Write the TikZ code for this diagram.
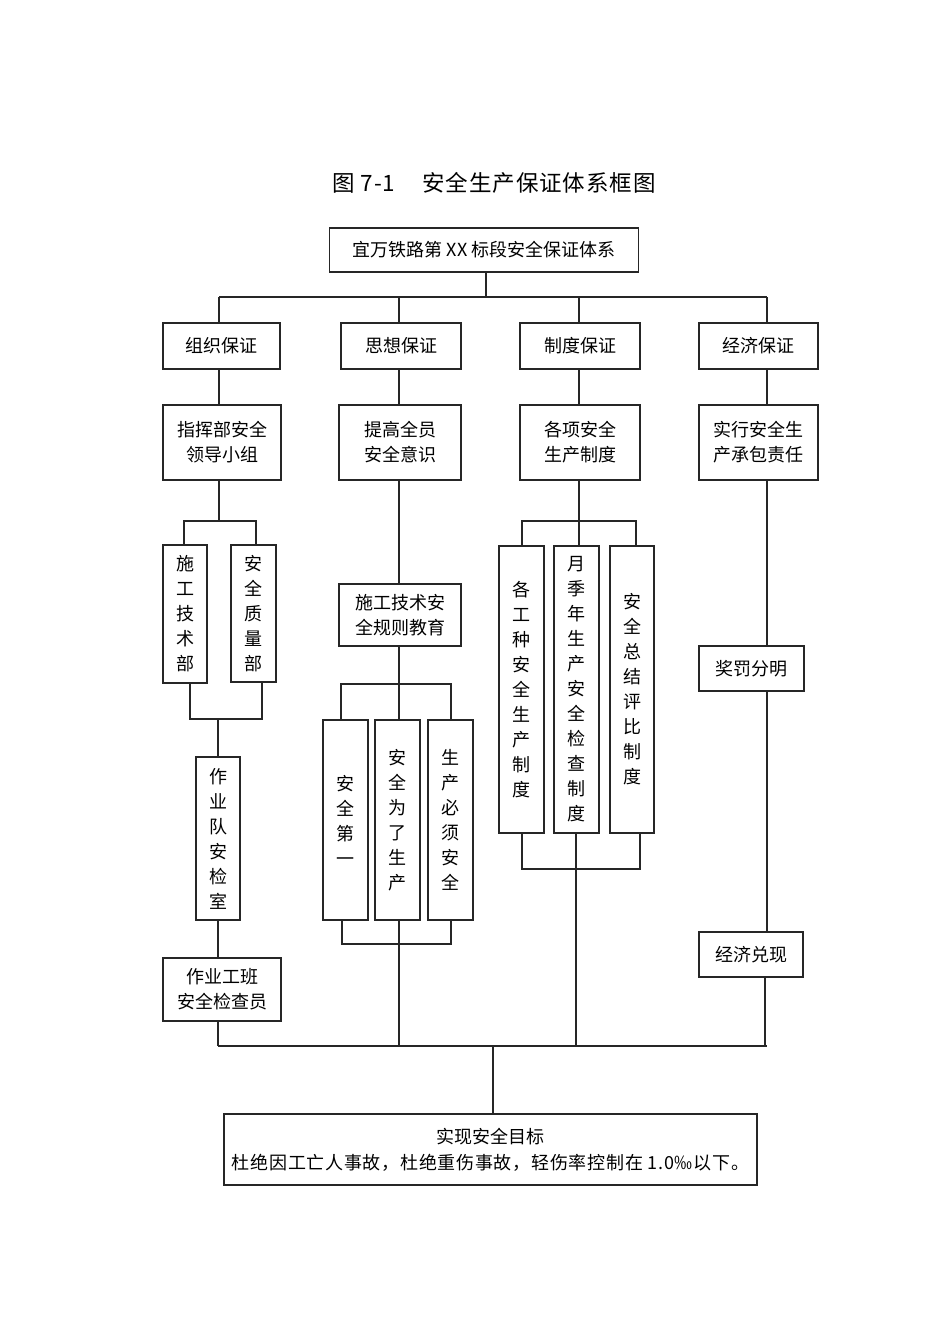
\documentclass[tikz,border=0pt]{standalone}
\usepackage{fontspec}
\newfontfamily\cjk{Noto Sans CJK SC}
\newfontfamily\cjkwide{Noto Sans CJK SC}[LetterSpace=4]
\begin{document}
\begin{tikzpicture}[x=1pt,y=-1pt,
  box/.style={draw=black!85, line width=1.3pt, inner sep=0pt, align=center,
    font=\cjk\fontsize{18}{25}\selectfont},
  ln/.style={draw=black!85, line width=1.2pt},
  ttl/.style={inner sep=0pt, font=\cjkwide\fontsize{22.5}{26}\selectfont}]
\useasboundingbox (0,0) rectangle (950,1344);
\node[ttl] (title) at (494,183) {图 7-1\hspace{1.2em}安全生产保证体系框图};
% top
\node[box, minimum width=309, minimum height=44] (top) at (484,250) {宜万铁路第 XX 标段安全保证体系};
% row 1
\node[box, minimum width=117, minimum height=46] (a1) at (221.5,346) {组织保证};
\node[box, minimum width=120, minimum height=46] (b1) at (401,346) {思想保证};
\node[box, minimum width=120, minimum height=46] (c1) at (580,346) {制度保证};
\node[box, minimum width=119, minimum height=46] (d1) at (758.5,346) {经济保证};
% row 2
\node[box, minimum width=118, minimum height=75] (a2) at (222,442.5) {指挥部安全\\领导小组};
\node[box, minimum width=122, minimum height=75] (b2) at (400,442.5) {提高全员\\安全意识};
\node[box, minimum width=120, minimum height=75] (c2) at (580,442.5) {各项安全\\生产制度};
\node[box, minimum width=119, minimum height=75] (d2) at (758.5,442.5) {实行安全生\\产承包责任};
% column 1
\node[box, minimum width=44, minimum height=138] (a3) at (185,614) {施\\工\\技\\术\\部};
\node[box, minimum width=45, minimum height=137] (a4) at (253.5,613.5) {安\\全\\质\\量\\部};
\node[box, minimum width=44, minimum height=163] (a5) at (218,838.5) {作\\业\\队\\安\\检\\室};
\node[box, minimum width=118, minimum height=63] (a6) at (222,989.5) {作业工班\\安全检查员};
% column 2
\node[box, minimum width=122, minimum height=62] (b3) at (400,615) {施工技术安\\全规则教育};
\node[box, minimum width=45, minimum height=200] (b4) at (345.5,820) {安\\全\\第\\一};
\node[box, minimum width=45, minimum height=200] (b5) at (397.5,820) {安\\全\\为\\了\\生\\产};
\node[box, minimum width=45, minimum height=200] (b6) at (450.5,820) {生\\产\\必\\须\\安\\全};
% column 3
\node[box, minimum width=45, minimum height=287] (c3) at (521.5,689.5) {各\\工\\种\\安\\全\\生\\产\\制\\度};
\node[box, minimum width=45, minimum height=287] (c4) at (576.5,689.5) {月\\季\\年\\生\\产\\安\\全\\检\\查\\制\\度};
\node[box, minimum width=44, minimum height=287] (c5) at (632,689.5) {安\\全\\总\\结\\评\\比\\制\\度};
% column 4
\node[box, minimum width=105, minimum height=45] (d3) at (751.5,668.5) {奖罚分明};
\node[box, minimum width=104, minimum height=45] (d4) at (751,954.5) {经济兑现};
% bottom
\node[box, minimum width=533, minimum height=71] (e) at (490.5,1149.5) {实现安全目标\\[1pt]{\cjkwide 杜绝因工亡人事故，杜绝重伤事故，轻伤率控制在 1.0‰以下。}};

% bus coordinates
\coordinate (busA) at (486,297);
\coordinate (busZ) at (493,1046);

% top distribution
\draw[ln] (top.south -| busA) -- (busA);
\draw[ln] (219,297) coordinate (t1) -- (767,297) coordinate (t4);
\draw[ln] (t1) -- (t1 |- a1.north);
\draw[ln] (399,297) -- (b1.north -| 399,0);
\draw[ln] (579,297) -- (c1.north -| 579,0);
\draw[ln] (t4) -- (t4 |- d1.north);
% row1 -> row2
\draw[ln] ([xshift=-2.5pt]a1.south) -- ([xshift=-2.5pt]a1.south |- a2.north);
\draw[ln] ([xshift=-2pt]b1.south) -- ([xshift=-2pt]b1.south |- b2.north);
\draw[ln] ([xshift=-1pt]c1.south) -- ([xshift=-1pt]c1.south |- c2.north);
\draw[ln] ([xshift=8.5pt]d1.south) -- ([xshift=8.5pt]d1.south |- d2.north);

% column 1
\draw[ln] ([xshift=-3pt]a2.south) -- (219,521);
\draw[ln] (a3.north -| 184,0) -- (184,521) -- (256,521) -- (a4.north -| 256,0);
\draw[ln] (a3.south -| 190,0) -- (190,719) -- (262,719) -- (a4.south -| 262,0);
\draw[ln] (218,719) -- (a5.north);
\draw[ln] (a5.south) -- (a5.south |- a6.north);
\draw[ln] (a6.south -| 218,0) -- (218,1046);

% column 2
\draw[ln] ([xshift=-1pt]b2.south) -- ([xshift=-1pt]b2.south |- b3.north);
\draw[ln] ([xshift=-1pt]b3.south) -- (399,684);
\draw[ln] (b4.north -| 341,0) -- (341,684) -- (451,684) -- (b6.north -| 451,0);
\draw[ln] (399,684) -- (b5.north -| 399,0);
\draw[ln] (b4.south -| 342,0) -- (342,944) -- (451,944) -- (b6.south -| 451,0);
\draw[ln] (b5.south -| 399,0) -- (399,1046);

% column 3
\draw[ln] ([xshift=-1pt]c2.south) -- (579,521);
\draw[ln] (c3.north -| 522,0) -- (522,521) -- (636,521) -- (c5.north -| 636,0);
\draw[ln] (579,521) -- (c4.north -| 579,0);
\draw[ln] (c3.south -| 522,0) -- (522,869) -- (640,869) -- (c5.south -| 640,0);
\draw[ln] (c4.south -| 576,0) -- (576,1046);

% column 4
\draw[ln] ([xshift=8.5pt]d2.south) -- ([xshift=8.5pt]d2.south |- d3.north);
\draw[ln] (d3.south -| 767,0) -- (d4.north -| 767,0);
\draw[ln] (d4.south -| 765,0) -- (765,1046);

% bottom bus
\draw[ln] (218,1046) -- (767,1046);
\draw[ln] (busZ) -- (busZ |- e.north);
\end{tikzpicture}
\end{document}
